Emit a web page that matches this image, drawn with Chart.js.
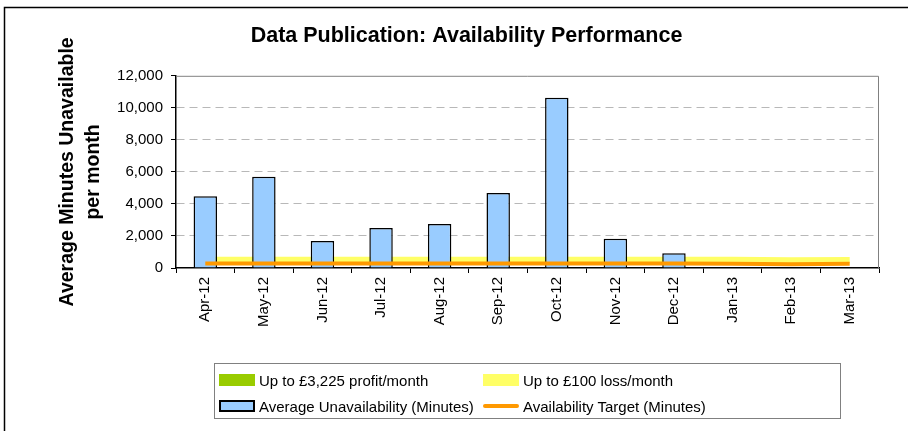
<!DOCTYPE html>
<html>
<head>
  <title>Data Publication: Availability Performance</title>
  <script src="https://cdn.jsdelivr.net/npm/chart.js"></script>
  <style>
    body {
      margin: 0;
      background: #fff;
      font-family: 'Liberation Sans', Arial, sans-serif;
    }
    .wrap {
      position: relative;
      width: 908px;
      height: 431px;
    }
    #legendBox {
      position: absolute;
      left: 214px;
      top: 363px;
      width: 627px;
      height: 56px;
      border: 1px solid #808080;
      box-sizing: border-box;
      font-size: 15px;
      color: #000;
    }
    .item {
      position: absolute;
      display: flex;
      align-items: center;
      height: 20px;
      white-space: nowrap;
    }
    .sw {
      width: 36px;
      height: 12px;
      margin-right: 4px;
      box-sizing: border-box;
    }
  </style>
</head>
<body>
  <div class="wrap">
    <canvas id="chart" width="908" height="431"></canvas>
    <div id="legendBox">
      <div class="item" style="left:4px;top:6px;"><div class="sw" style="background:#99cc00"></div>Up to £3,225 profit/month</div>
      <div class="item" style="left:268px;top:6px;"><div class="sw" style="background:#ffff66"></div>Up to £100 loss/month</div>
      <div class="item" style="left:4px;top:32px;"><div class="sw" style="background:#99ccff;border:2px solid #000"></div>Average Unavailability (Minutes)</div>
      <div class="item" style="left:268px;top:32px;"><div class="sw" style="height:4px;background:#ff9900;border-radius:2px"></div>Availability Target (Minutes)</div>
    </div>
  </div>

  <script>
    const months = ['Apr-12', 'May-12', 'Jun-12', 'Jul-12', 'Aug-12', 'Sep-12',
                    'Oct-12', 'Nov-12', 'Dec-12', 'Jan-13', 'Feb-13', 'Mar-13'];
    const unavailability = [4480, 5700, 1680, 2500, 2740, 4680, 10630, 1820, 920, null, null, null];
    const targetMinutes = [280, 280, 280, 280, 280, 280, 280, 280, 280, 270, 240, 260];
    const lossBand = [520, 520, 520, 520, 520, 520, 520, 520, 520, 510, 480, 500];
    const profitBand = [];
    const yTicks = [0, 2000, 4000, 6000, 8000, 10000, 12000];

    const frame = {
      id: 'frame',
      afterDraw(chart) {
        const c = chart.ctx;
        const a = chart.chartArea;
        c.save();
        // outer chart border (left + top)
        c.strokeStyle = '#000';
        c.lineWidth = 1.5;
        c.beginPath();
        c.moveTo(4.5, 431);
        c.lineTo(4.5, 7.5);
        c.lineTo(908, 7.5);
        c.stroke();
        // plot area top + right border
        c.strokeStyle = '#808080';
        c.lineWidth = 1;
        c.beginPath();
        c.moveTo(a.left, a.top + 0.5);
        c.lineTo(a.right - 0.5, a.top + 0.5);
        c.lineTo(a.right - 0.5, a.bottom);
        c.stroke();
        c.restore();
      }
    };

    Chart.defaults.font.family = "'Liberation Sans', Arial, sans-serif";
    Chart.defaults.color = '#000';

    new Chart(document.getElementById('chart'), {
      data: {
        labels: months,
        datasets: [
          {
            type: 'line',
            label: 'Up to £3,225 profit/month',
            data: profitBand,
            borderColor: '#99cc00',
            order: 4
          },
          {
            type: 'line',
            label: 'Up to £100 loss/month',
            data: lossBand,
            borderColor: '#ffff66',
            borderWidth: 6,
            pointRadius: 0,
            tension: 0,
            order: 3
          },
          {
            type: 'bar',
            label: 'Average Unavailability (Minutes)',
            data: unavailability,
            backgroundColor: '#99ccff',
            borderColor: '#000',
            borderWidth: 1.5,
            categoryPercentage: 1,
            barPercentage: 0.4,
            order: 2
          },
          {
            type: 'line',
            label: 'Availability Target (Minutes)',
            data: targetMinutes,
            borderColor: '#ff9900',
            borderWidth: 4,
            pointRadius: 0,
            tension: 0,
            order: 1
          }
        ]
      },
      options: {
        responsive: false,
        animation: false,
        layout: { padding: { left: 54, right: 29, top: 0, bottom: 63 } },
        plugins: {
          legend: { display: false },
          tooltip: { enabled: false },
          title: {
            display: true,
            text: 'Data Publication: Availability Performance',
            font: { size: 21.5, weight: 'bold' },
            color: '#000',
            padding: { top: 23, bottom: 27 }
          }
        },
        scales: {
          x: {
            offset: true,
            grid: {
              display: true,
              offset: true,
              drawOnChartArea: false,
              drawTicks: true,
              tickLength: 5,
              tickColor: '#000'
            },
            border: { color: '#000', width: 1.5 },
            ticks: {
              minRotation: 90,
              maxRotation: 90,
              font: { size: 15 },
              padding: 4
            },
            afterFit(s) { s.height = 100; }
          },
          y: {
            min: 0,
            max: 12000,
            afterBuildTicks(s) { s.ticks = yTicks.map(v => ({ value: v })); },
            grid: {
              color: (ctx) => (ctx.tick && (ctx.tick.value === 0 || ctx.tick.value === 12000)) ? 'rgba(0,0,0,0)' : '#b8b8b8',
              tickColor: '#000',
              tickBorderDash: [],
              tickLength: 5
            },
            border: { color: '#000', width: 1.5, dash: [8, 5] },
            ticks: {
              font: { size: 15 },
              padding: 8,
              callback: (v) => v.toLocaleString('en-GB')
            },
            title: {
              display: true,
              text: ['Average Minutes Unavailable', 'per month'],
              font: { size: 19.5, weight: 'bold', lineHeight: 1.35 },
              color: '#000',
              padding: 0
            },
            afterFit(s) { s.width = 122; }
          }
        }
      },
      plugins: [frame]
    });
  </script>
</body>
</html>
